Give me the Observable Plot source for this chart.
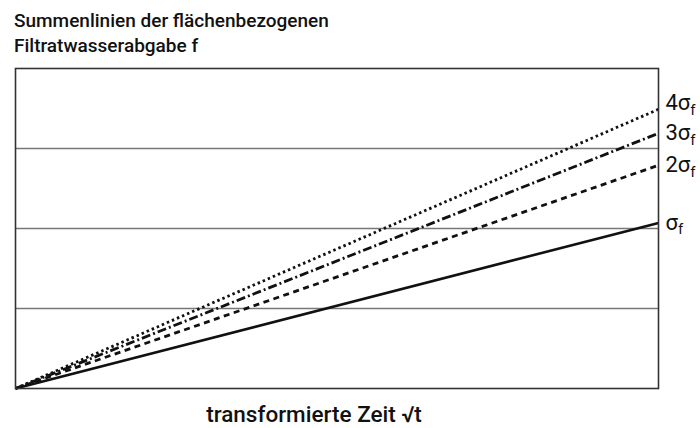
<!DOCTYPE html>
<html>
<head>
<meta charset="utf-8">
<script src="https://cdn.jsdelivr.net/npm/d3@7"></script>
<script src="https://cdn.jsdelivr.net/npm/@observablehq/plot@0.6"></script>
<style>
  html, body { margin: 0; padding: 0; background: #fff; }
  #wrap { position: relative; width: 700px; height: 428px; overflow: hidden; background: #fff; }
  #title { position: absolute; z-index: 2; left: 14px; top: 8px; font-family: Roboto, sans-serif; font-weight: 500; font-size: 19px; line-height: 25px; color: #111; }
  #wrap svg { position: absolute; z-index: 1; left: 0; top: 0; }
</style>
</head>
<body>
<div id="wrap">
  <div id="title">Summenlinien der flächenbezogenen<br>Filtratwasserabgabe f</div>
</div>
<script>
// Data (y in grid units, lines start at origin)
const seriesNames = ["σ", "2σ", "3σ", "4σ"];
const endValues = [2.07, 2.79, 3.19, 3.49];
const xEnds = [0, 1];
const gridValues = [1, 2, 3];
const xLabel = "transformierte Zeit √t";

const dashes = {"σ": null, "2σ": "6,4.5", "3σ": "9,3,2,3", "4σ": "2.5,3"};

const lineData = [];
seriesNames.forEach((n, i) => {
  xEnds.forEach(x => lineData.push({name: n, x, y: x * endValues[i]}));
});
const labelData = seriesNames.map((n, i) => ({name: n, y: endValues[i]}));

const marks = [
  Plot.ruleY(gridValues, {stroke: "#777", strokeWidth: 1.3}),
  ...seriesNames.map(n => Plot.line(lineData.filter(d => d.name === n), {
    x: "x", y: "y", stroke: "#111", strokeWidth: n === "σ" ? 2.6 : 2.8,
    strokeDasharray: dashes[n], strokeLinecap: "butt"
  })),
  Plot.frame({stroke: "#333", strokeWidth: 1.6}),
  Plot.text(labelData.filter(d => d.name !== "4σ"), {x: () => 1, y: "y", text: "name", textAnchor: "start", dx: 7, fontSize: 22, fill: "#111", className: "lbl"}),
  Plot.text(labelData.filter(d => d.name === "4σ"), {x: () => 1, y: "y", text: "name", textAnchor: "start", dx: 7, dy: -6, fontSize: 22, fill: "#111", className: "lbl"}),
  Plot.text([xLabel], {frameAnchor: "bottom", text: d => d, dy: 33, dx: -23, fontSize: 22.5, fontWeight: 500, fill: "#111"})
];

const chart = Plot.plot({
  width: 700, height: 428,
  marginTop: 68, marginBottom: 40, marginLeft: 15, marginRight: 42,
  style: {fontFamily: "Roboto, sans-serif", background: "#fff"},
  x: {domain: [0, 1], axis: null},
  y: {domain: [0, 4], axis: null},
  marks
});

// subscript f on the series labels
d3.select(chart).selectAll(".lbl text").each(function () {
  const t = this.textContent;
  const sel = d3.select(this);
  sel.text(null);
  sel.append("tspan").text(t);
  sel.append("tspan").attr("dy", "0.3em").attr("font-size", "15").text("f");
});

document.getElementById("wrap").appendChild(chart);
</script>
</body>
</html>
